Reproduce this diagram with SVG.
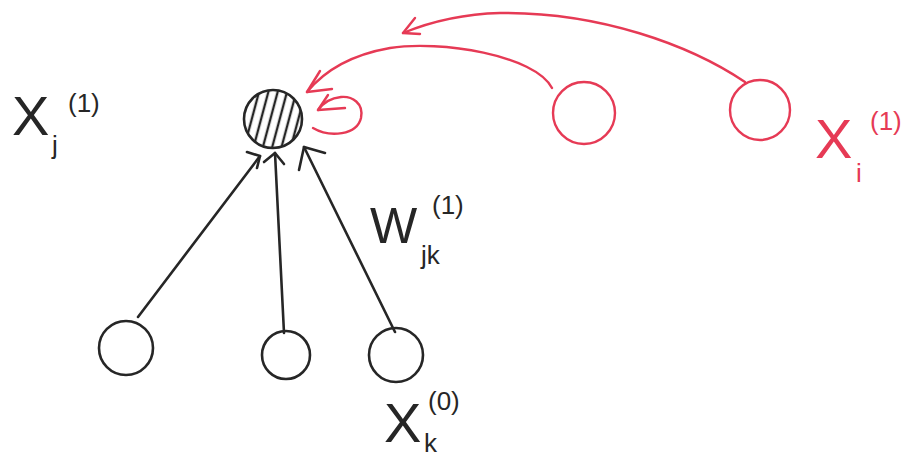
<svg xmlns="http://www.w3.org/2000/svg" width="912" height="461" viewBox="0 0 912 461">
<style>
.k{fill:none;stroke:#262626;stroke-width:2.6;stroke-linecap:round;stroke-linejoin:round}
.r{fill:none;stroke:#e63a55;stroke-width:2.4;stroke-linecap:round;stroke-linejoin:round}
.t{font-family:"Liberation Sans",Arial,sans-serif;fill:#262626}
.tr{font-family:"Liberation Sans",Arial,sans-serif;fill:#e63a55}
.big{font-size:56px}
.sm{font-size:26px}
</style>
<defs>
<pattern id="hatch" patternUnits="userSpaceOnUse" width="9" height="9" patternTransform="rotate(15)">
<line x1="4" y1="0" x2="4" y2="9" stroke="#262626" stroke-width="2.4"/>
</pattern>
</defs>
<rect width="912" height="461" fill="#ffffff"/>
<g id="connectors">
<path class="k" d="M138 317 L260 156"/>
<path class="k" d="M247 152 L260 156 L257 168"/>
<path class="k" d="M284 333 L275 153"/>
<path class="k" d="M264 162 L275 153 L284 164"/>
<path class="k" d="M395 332 L304 147"/>
<path class="k" d="M299 170 L304 147 L325 153"/>
<path class="r" d="M552 88 C535 55 440 40 390 48 C350 55 325 70 307 92"/>
<path class="r" d="M320 71 L307 92 L332 89"/>
<path class="r" d="M745 82 C690 45 600 12 500 13 C460 14 430 22 403 33"/>
<path class="r" d="M415 18 L403 33 L420 34"/>
<path class="r" d="M313 128 C330 138 357 135 361 118 C364 103 352 96 341 97 C331 98 323 103 318 110"/>
<path class="r" d="M328 95 L318 110 L345 108"/>
</g>
<g id="xj1">
<circle cx="273" cy="119" r="29" fill="url(#hatch)" stroke="#262626" stroke-width="2.6"/>
</g>
<g id="xi-a">
<circle class="r" cx="584" cy="113" r="31"/>
</g>
<g id="xi-b">
<circle class="r" cx="760" cy="110" r="30"/>
</g>
<g id="xk-a">
<circle class="k" cx="126" cy="348" r="27"/>
</g>
<g id="xk-b">
<circle class="k" cx="286" cy="355" r="24"/>
</g>
<g id="xk-c">
<circle class="k" cx="396" cy="355" r="27"/>
</g>
<g id="label-xj">
<text class="t big" x="12" y="135">X</text>
<text class="t sm" x="52" y="154">j</text>
<text class="t sm" x="68" y="112">(1)</text>
</g>
<g id="label-w">
<text class="t" font-size="50" x="370" y="243">W</text>
<text class="t sm" x="421" y="264">jk</text>
<text class="t sm" x="432" y="214">(1)</text>
</g>
<g id="label-xi">
<text class="tr big" x="815" y="158">X</text>
<text class="tr sm" x="856" y="182">i</text>
<text class="tr sm" x="870" y="130">(1)</text>
</g>
<g id="label-xk">
<text class="t big" x="384" y="442">X</text>
<text class="t sm" x="424" y="452">k</text>
<text class="t sm" x="428" y="410">(0)</text>
</g>
</svg>
